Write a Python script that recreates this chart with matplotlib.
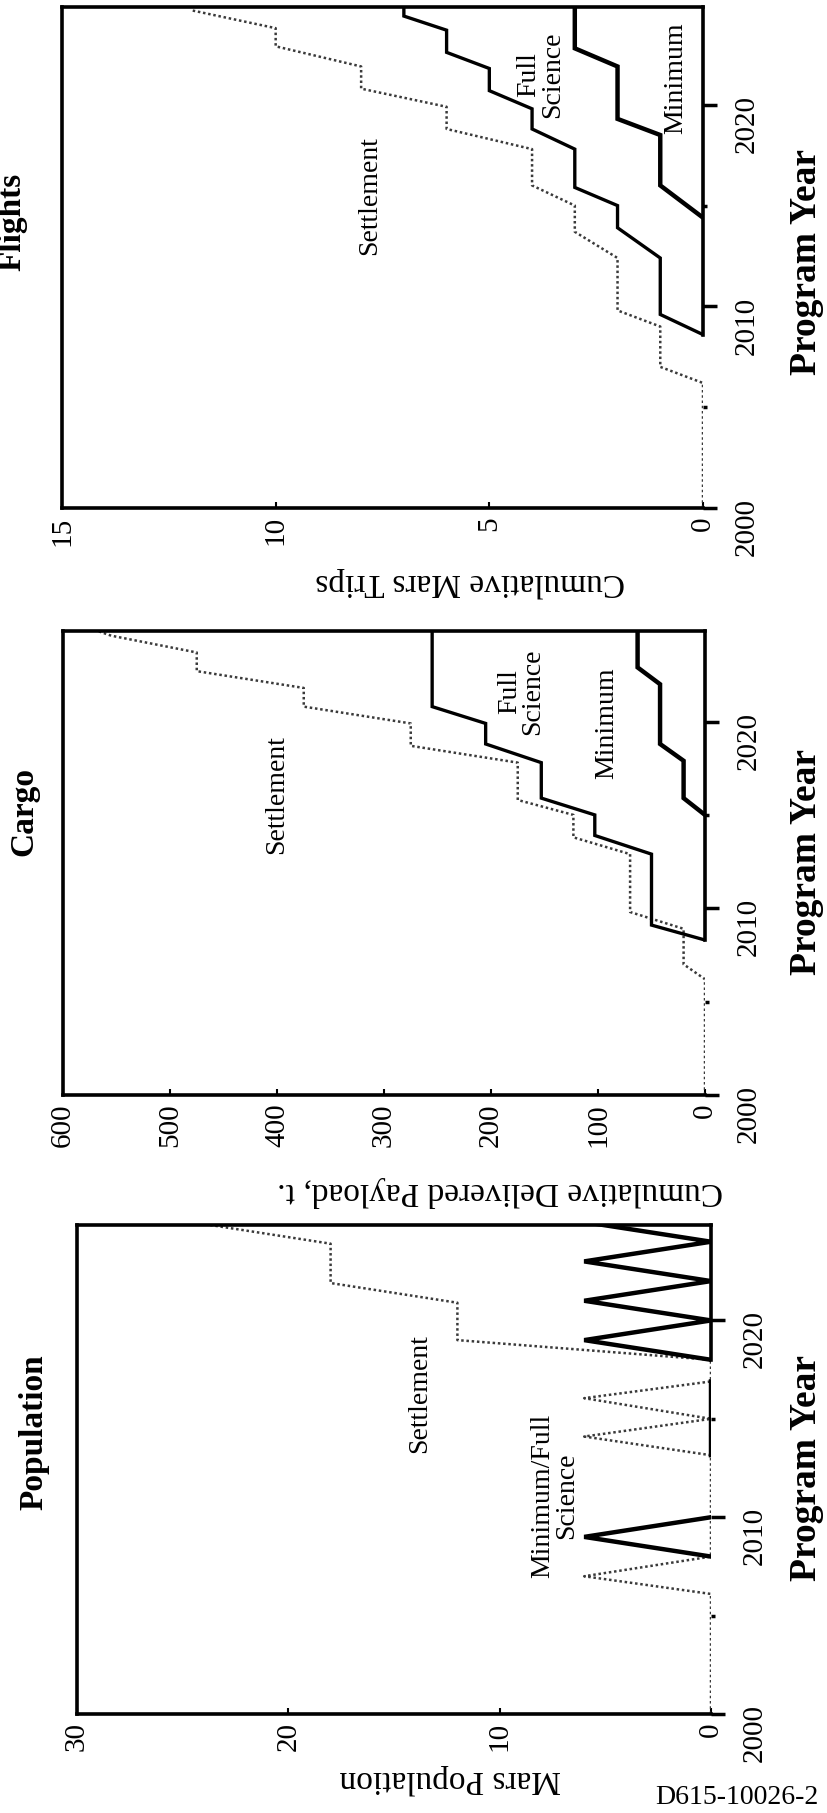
import matplotlib
matplotlib.use("Agg")
import matplotlib.pyplot as plt

plt.rcParams['font.family'] = ['Liberation Serif', 'DejaVu Serif']

nan = float('nan')

# ---- data (year, value) breakpoints ----
# Flights: cumulative Mars trips
fl_set_yr = [2000, 2006.2, 2007.0, 2009.0, 2009.8, 2012.4, 2013.7, 2015.0, 2016.0,
             2017.8, 2018.8, 2019.9, 2020.8, 2021.9, 2022.9, 2023.8, 2024.7]
fl_set_val = [0, 0, 1, 1, 2, 2, 3, 3, 4, 4, 6, 6, 8, 8, 10, 10, 12]
fl_full_yr = [2008.6, 2009.6, 2012.4, 2013.9, 2015.0, 2015.9, 2017.8, 2018.8, 2019.8,
              2020.7, 2021.8, 2022.6, 2023.7, 2024.4, 2025]
fl_full_val = [0, 1, 1, 2, 2, 3, 3, 4, 4, 5, 5, 6, 6, 7, 7]
fl_min_yr = [2014.4, 2016.0, 2018.5, 2019.3, 2021.9, 2022.8, 2025]
fl_min_val = [0, 1, 1, 2, 2, 3, 3]

# Cargo: cumulative delivered payload, t
cg_set_yr = [2000, 2006.2, 2007.0, 2008.9, 2009.8, 2012.9, 2013.8, 2015.0, 2015.8,
             2017.8, 2018.7, 2019.9, 2020.8, 2021.8, 2022.7, 2023.7, 2024.6, 2025]
cg_set_val = [0, 0, 20, 20, 70, 70, 123, 123, 175, 175, 275, 275, 375, 375, 475, 475, 555, 575]
cg_full_yr = [2008.3, 2009.1, 2012.9, 2013.9, 2015.0, 2015.9, 2017.8, 2018.8, 2019.9, 2020.8, 2025]
cg_full_val = [0, 50, 50, 103, 103, 153, 153, 205, 205, 255, 255]
cg_min_yr = [2015.0, 2015.9, 2017.9, 2018.8, 2022.0, 2022.9, 2025]
cg_min_val = [0, 20, 20, 42, 42, 63, 63]

# Population
pop_set_yr = [2000, 2006.1, 2007.0, 2008.0, 2013.15, 2014.1, 2015.0, 2016.05, 2016.9,
              2018.0, 2019.0, 2020.9, 2021.9, 2023.9, 2024.9]
pop_set_val = [0, 0, 6, 0, 0, 6, 0, 6, 0, 0, 12, 12, 18, 18, 24]
pop_crew_yr = [2008.0, 2009.0, 2010.0, nan, 2013.15, 2016.9, nan, 2018.0, 2019.0,
               2020.0, 2021.0, 2022.0, 2023.0, 2024.0, 2025.0]
pop_crew_val = [0, 6, 0, nan, 0, 0, nan, 0, 6, 0, 6, 0, 6, 0, 6]

year_ticks = [2000, 2010, 2020]
year_minor = [2005, 2015]
year_lim = (2000, 2024.85)

W, H = 827, 1813
fig = plt.figure(figsize=(W / 100, H / 100), dpi=100)


def px_rect(x0, x1, ytop, ybot):
    return [x0 / W, 1 - ybot / H, (x1 - x0) / W, (ybot - ytop) / H]


def ftext(x, y, s, **kw):
    fig.text(x / W, 1 - y / H, s, ha='center', va='center', **kw)


def make_panel(rect, vmax, vticks, zero_from):
    ax = fig.add_axes(rect)
    ax.set_xlim(vmax, 0)
    ax.set_ylim(*year_lim)
    for side in ['left', 'top', 'bottom', 'right']:
        ax.spines[side].set_linewidth(2.6)
    ax.spines['right'].set_bounds(zero_from, year_lim[1])
    ax.xaxis.set_ticks_position('bottom')
    ax.set_xticks(vticks)
    ax.tick_params(axis='x', direction='in', length=4, width=1.5,
                   labelrotation=90, labelsize=21, pad=6)
    ax.yaxis.tick_right()
    ax.set_yticks(year_ticks)
    ax.set_yticks(year_minor, minor=True)
    ax.tick_params(axis='y', which='major', direction='out', length=10, width=2.5,
                   labelrotation=90, labelsize=21, pad=12)
    ax.tick_params(axis='y', which='minor', direction='out', length=3, width=2.5)
    return ax


def settle(ax, v, y):
    ax.plot(v, y, color='#3a3a3a', lw=1.8, linestyle=(0, (1, 1.1)))


def solid(ax, v, y, lw):
    ax.plot(v, y, color='black', lw=lw, solid_joinstyle='miter')


# ---- Flights ----
ax1 = make_panel(px_rect(62, 703, 7, 508), 15, [0, 5, 10, 15], 2008.6)
settle(ax1, fl_set_val, fl_set_yr)
solid(ax1, fl_full_val, fl_full_yr, 2.4)
solid(ax1, fl_min_val, fl_min_yr, 3.2)
ax1.text(7.8, 2015.5, 'Settlement', rotation=90, ha='center', va='center', fontsize=20)
ax1.text(3.8, 2021.5, 'Full\nScience', rotation=90, ha='center', va='center',
         fontsize=20, linespacing=0.9)
ax1.text(0.65, 2021.3, 'Minimum', rotation=90, ha='center', va='center', fontsize=20)

# ---- Cargo ----
ax2 = make_panel(px_rect(63, 705, 631, 1095), 600, [0, 100, 200, 300, 400, 500, 600], 2008.3)
settle(ax2, cg_set_val, cg_set_yr)
solid(ax2, cg_full_val, cg_full_yr, 2.4)
solid(ax2, cg_min_val, cg_min_yr, 3.2)
ax2.text(400, 2016.1, 'Settlement', rotation=90, ha='center', va='center', fontsize=20)
ax2.text(172, 2021.6, 'Full\nScience', rotation=90, ha='center', va='center',
         fontsize=20, linespacing=0.9)
ax2.text(92, 2019.9, 'Minimum', rotation=90, ha='center', va='center', fontsize=20)

# ---- Population ----
ax3 = make_panel(px_rect(77, 711, 1225, 1714), 30, [0, 10, 20, 30], 2018.0)
settle(ax3, pop_set_val, pop_set_yr)
solid(ax3, pop_crew_val, pop_crew_yr, 3.2)
ax3.text(13.8, 2016.3, 'Settlement', rotation=90, ha='center', va='center', fontsize=20)
ax3.text(7.4, 2011.1, 'Minimum/Full\nScience', rotation=90, ha='center', va='center',
         fontsize=20, linespacing=0.9)

# ---- titles and axis labels (figure is turned a quarter turn) ----
ftext(12, 222, 'Flights', rotation=90, fontsize=24, fontweight='bold')
ftext(24, 812, 'Cargo', rotation=90, fontsize=24, fontweight='bold')
ftext(34, 1432, 'Population', rotation=90, fontsize=24, fontweight='bold')

ftext(806, 262, 'Program Year', rotation=90, fontsize=27, fontweight='bold')
ftext(806, 862, 'Program Year', rotation=90, fontsize=27, fontweight='bold')
ftext(806, 1468, 'Program Year', rotation=90, fontsize=27, fontweight='bold')

ftext(470, 582, 'Cumulative Mars Trips', rotation=180, fontsize=24)
ftext(500, 1191, 'Cumulative Delivered Payload, t.', rotation=180, fontsize=24)
ftext(450, 1779, 'Mars Population', rotation=180, fontsize=24)
ftext(737, 1798, 'D615-10026-2', fontsize=20)

fig.savefig('out.png', dpi=100, facecolor='white')
